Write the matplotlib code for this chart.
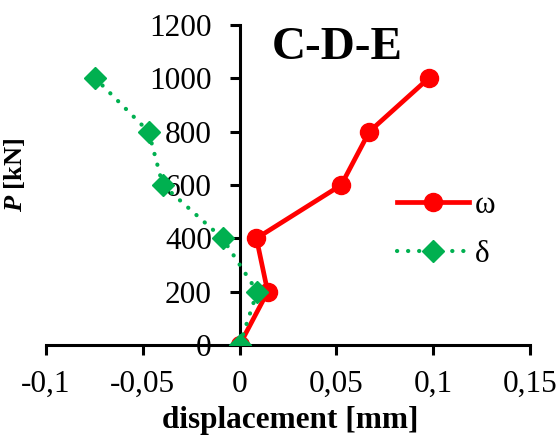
import matplotlib
matplotlib.use("Agg")
import matplotlib.pyplot as plt
from matplotlib.ticker import FuncFormatter

load = [0, 200, 400, 600, 800, 1000]
omega = [0.0, 0.0145, 0.0087, 0.0525, 0.067, 0.0976]
delta = [0.0, 0.0091, -0.0088, -0.0397, -0.047, -0.0745]
xticks = [-0.1, -0.05, 0, 0.05, 0.1, 0.15]
yticks = [0, 200, 400, 600, 800, 1000, 1200]

plt.rcParams['font.family'] = ['Liberation Serif', 'DejaVu Serif']
plt.rcParams['mathtext.fontset'] = 'custom'
plt.rcParams['mathtext.it'] = 'Liberation Serif:italic:bold'

fig = plt.figure(figsize=(5.6, 4.37), dpi=100)
ax = fig.add_axes([46/560, 1-345/437, (530-46)/560, 320/437])

ax.plot(delta, load, color='#00B050', lw=3, linestyle=(0, (0.05, 2.6)),
        dash_capstyle='round', solid_capstyle='round',
        marker='D', markersize=11, label='δ', zorder=3)
ax.plot(omega, load, color='#FF0000', lw=3.4, marker='o', markersize=13,
        label='ω', zorder=2)

ax.set_xlim(-0.1, 0.15)
ax.set_ylim(0, 1200)
ax.set_xticks(xticks)
ax.set_yticks(yticks)

def fmt(v, pos):
    s = ('%.2f' % v).rstrip('0').rstrip('.')
    if s == '-0':
        s = '0'
    return s.replace('.', ',')
ax.xaxis.set_major_formatter(FuncFormatter(fmt))

for s in ['top', 'right']:
    ax.spines[s].set_visible(False)
ax.spines['left'].set_position(('data', 0))
ax.spines['left'].set_linewidth(2.2)
ax.spines['bottom'].set_linewidth(2.2)
ax.spines['left'].set_zorder(1)
ax.tick_params(axis='both', direction='out', length=7, width=2.2,
               labelsize=22.5, colors='black')
ax.tick_params(axis='x', pad=11)
ax.tick_params(axis='y', pad=13)

ax.set_xlabel('displacement [mm]', fontsize=22.5, fontweight='bold')
ax.xaxis.set_label_coords((290-46)/484, -(406-345)/320)
ax.set_ylabel(r'$P$ [kN]', fontsize=19, fontweight='bold')
ax.yaxis.set_label_coords(-(46-27)/484, (345-175)/320)

ax.text(0.0165, 1112, 'C-D-E', fontsize=34, fontweight='bold', ha='left', va='center')

h, l = ax.get_legend_handles_labels()
ax.legend(h[::-1], l[::-1], loc='center left', bbox_to_anchor=((397-46)/484, (345-230)/320),
          frameon=False, fontsize=22.5, handlelength=2.3, handletextpad=0.2,
          labelspacing=0.62, borderpad=0, borderaxespad=0)

fig.savefig('out.png', dpi=100)
